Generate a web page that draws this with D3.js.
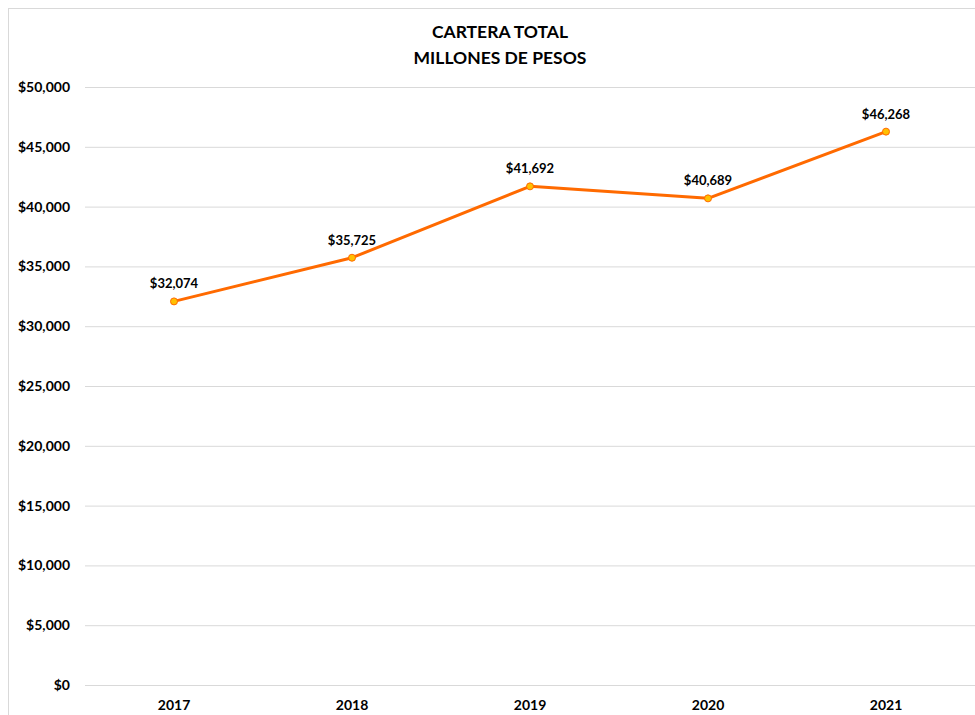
<!DOCTYPE html>
<html><head><meta charset="utf-8">
<script src="https://cdn.jsdelivr.net/npm/d3@7"></script>
<style>body{margin:0;background:#fff}svg{display:block;font-family:Lato,"Open Sans",sans-serif}</style>
</head><body><svg id="c" width="975" height="715"></svg>
<script>
const years = ["2017","2018","2019","2020","2021"];
const values = [32074, 35725, 41692, 40689, 46268];
const yTicks = [0,5000,10000,15000,20000,25000,30000,35000,40000,45000,50000];
const titleLines = ["CARTERA TOTAL","MILLONES DE PESOS"];

const svg = d3.select("#c");
svg.append("rect").attr("x",8.5).attr("y",8.5).attr("width",980).attr("height",720)
  .attr("fill","none").attr("stroke","#d9d9d9");

const x = d3.scaleBand().domain(years).range([85,975]);
const y = d3.scaleLinear().domain([0,50000]).range([685,87]);
const fmt = v => "$" + d3.format(",")(v);

const yAxis = svg.append("g").attr("transform","translate(85,0)")
  .call(d3.axisLeft(y).tickValues(yTicks).tickFormat(fmt).tickSize(-890).tickPadding(15));
yAxis.select(".domain").remove();
yAxis.selectAll(".tick line").attr("stroke","#d9d9d9");
yAxis.selectAll(".tick text").attr("fill","#000").attr("font-size",14).attr("font-weight","bold")
  .attr("font-family","Lato,'Open Sans',sans-serif");

const xAxis = svg.append("g").attr("transform","translate(0,685)")
  .call(d3.axisBottom(x).tickSize(0).tickPadding(15));
xAxis.select(".domain").remove();
xAxis.selectAll(".tick text").attr("fill","#000").attr("font-size",14).attr("font-weight","bold")
  .attr("font-family","Lato,'Open Sans',sans-serif");

const cx = d => x(d) + x.bandwidth()/2;
const line = d3.line().x((d,i)=>cx(years[i])).y(d=>y(d));
svg.append("path").datum(values).attr("d",line).attr("fill","none")
  .attr("stroke","#ff6a00").attr("stroke-width",3).attr("stroke-linejoin","round");

svg.selectAll("circle.pt").data(values).join("circle").attr("class","pt")
  .attr("cx",(d,i)=>cx(years[i])).attr("cy",d=>y(d)).attr("r",3.5)
  .attr("fill","#ffc000").attr("stroke","#ff6a00").attr("stroke-width",1);

svg.selectAll("text.lbl").data(values).join("text").attr("class","lbl")
  .attr("x",(d,i)=>cx(years[i])).attr("y",d=>y(d)-13)
  .attr("text-anchor","middle").attr("font-size",13).attr("font-weight","bold").attr("fill","#000")
  .text(fmt);

svg.selectAll("text.title").data(titleLines).join("text").attr("class","title")
  .attr("x",500).attr("y",(d,i)=>38+i*26).attr("text-anchor","middle")
  .attr("font-size",17.5).attr("font-weight","bold").attr("fill","#000").text(d=>d);
</script></body></html>
